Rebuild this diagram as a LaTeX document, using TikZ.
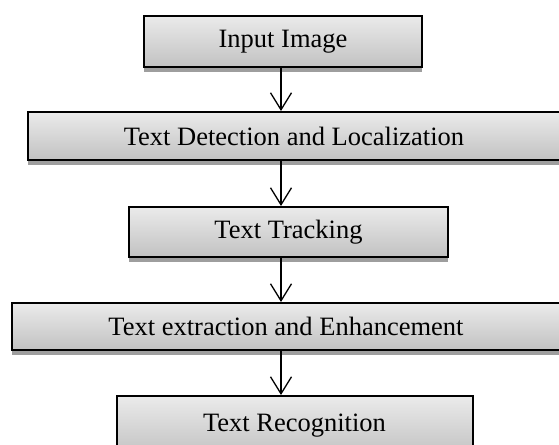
\documentclass[tikz,border=0pt]{standalone}
\usepackage{fontspec}
\setmainfont{Liberation Serif}
\usetikzlibrary{arrows.meta,shadows}
\begin{document}
\begin{tikzpicture}[x=1pt,y=-1pt,
  stagebox/.style={draw=black, line width=2pt, inner sep=0pt,
    top color=black!8, bottom color=black!24,
    drop shadow={shadow xshift=0pt, shadow yshift=-5pt, fill=black!38, opacity=1},
    font=\fontsize{26.5}{30}\selectfont},
  flowarrow/.style={draw=black, line width=1.3pt, -{Straight Barb[length=17pt,width=21pt,line width=1.3pt]}}
]
\useasboundingbox (0,0) rectangle (559,444);
\clip (0,0) rectangle (559,444);
\node[stagebox, minimum width=278pt, minimum height=51pt] (b1) at (283,41.5) {Input Image};
\node[stagebox, minimum width=533pt, minimum height=48pt] (b2) at (294,136) {Text Detection and Localization};
\node[stagebox, minimum width=319pt, minimum height=50pt] (b3) at (288.5,232) {Text Tracking};
\node[stagebox, minimum width=549pt, minimum height=47pt] (b4) at (286,326.5) {Text extraction and Enhancement};
\node[stagebox, minimum width=356pt, minimum height=60pt] (b5) at (294.5,426) {Text Recognition};
\coordinate (ax) at (281,0);
\draw[flowarrow] (b1.south -| ax) -- (b2.north -| ax);
\draw[flowarrow] (b2.south -| ax) -- (b3.north -| ax);
\draw[flowarrow] (b3.south -| ax) -- (b4.north -| ax);
\draw[flowarrow] (b4.south -| ax) -- (b5.north -| ax);
\end{tikzpicture}
\end{document}
